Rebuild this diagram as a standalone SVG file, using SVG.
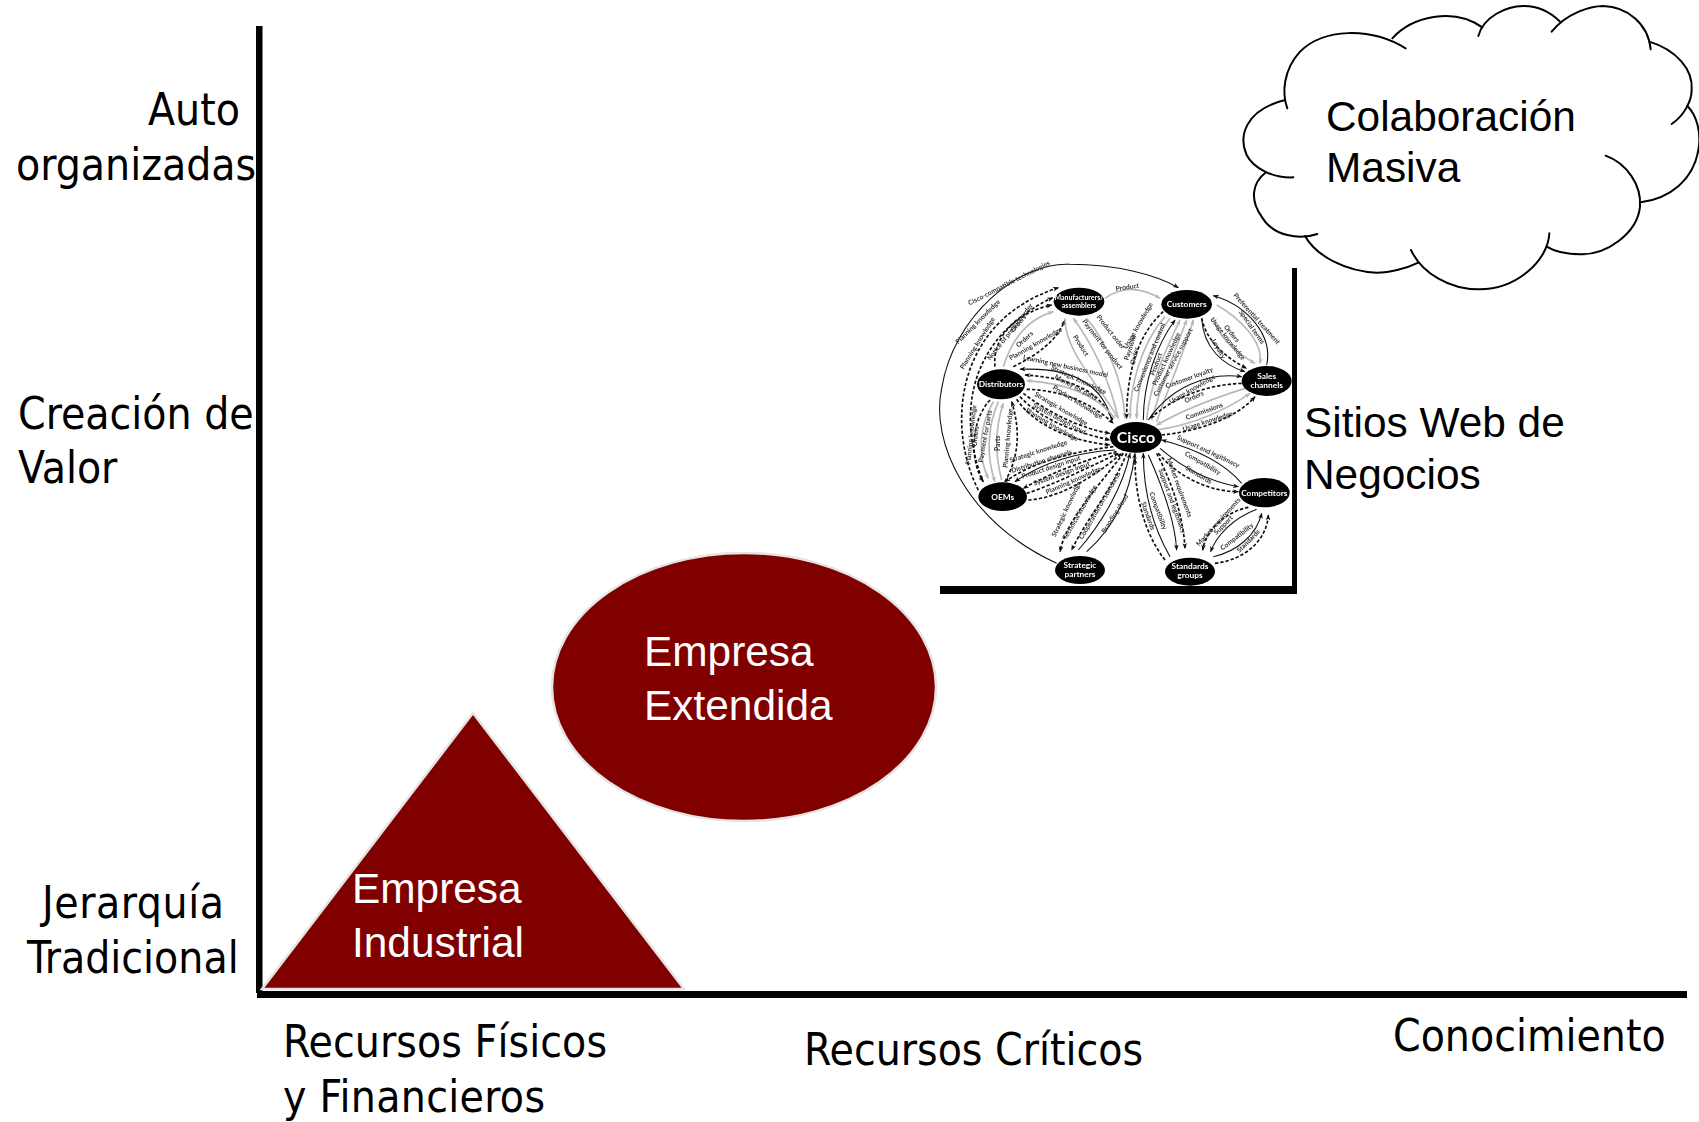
<svg xmlns="http://www.w3.org/2000/svg" width="1699" height="1122" viewBox="0 0 1699 1122">
<style>
.t{font-family:"DejaVu Sans Condensed","DejaVu Sans",sans-serif;font-size:44px;fill:#000}
.a{font-family:"Liberation Sans",Arial,sans-serif;font-size:42.4px;fill:#000}
.w{fill:#fff}
.ax{fill:#000}
.red{fill:#800000;stroke:#e4e4e4;stroke-width:2.5}
.cl{fill:none;stroke:#000;stroke-width:6;stroke-linecap:round}
.e path{fill:none}
.s{stroke:#111;stroke-width:3.2;marker-end:url(#hk)}
.d{stroke:#111;stroke-width:5;stroke-dasharray:10 6;marker-end:url(#hk)}
.g{stroke:#b9b9b9;stroke-width:5;marker-end:url(#hg)}
.n ellipse{fill:#000}
.n text{font-family:"Lato","Liberation Sans",sans-serif;font-weight:700;fill:#fff;text-anchor:middle;font-size:25px}
.l text{font-family:"Lato","Liberation Sans",sans-serif;font-size:20px;fill:#333;text-anchor:middle;font-weight:700}
</style>
<defs>
<marker id="hk" markerUnits="userSpaceOnUse" markerWidth="20" markerHeight="16" refX="16" refY="8" orient="auto"><path d="M0,1 L18,8 L0,15 L5,8 Z" fill="#111"/></marker>
<marker id="hg" markerUnits="userSpaceOnUse" markerWidth="20" markerHeight="16" refX="16" refY="8" orient="auto"><path d="M0,1 L18,8 L0,15 L5,8 Z" fill="#b9b9b9"/></marker>
<filter id="soft" x="-5%" y="-5%" width="110%" height="110%"><feGaussianBlur stdDeviation="0.35"/></filter>
</defs>
<rect width="1699" height="1122" fill="#fff"/>

<g id="connectors-axes">
<rect class="ax" x="256" y="26" width="6.5" height="967"/>
<rect class="ax" x="257" y="991" width="1430" height="7"/>
<rect class="ax" x="1292" y="268" width="5" height="326"/>
<rect class="ax" x="940" y="586" width="357" height="8"/>
</g>

<g id="axis-labels">
<text class="t" x="148" y="125">Auto</text>
<text class="t" x="16" y="180">organizadas</text>
<text class="t" x="18" y="429">Creación de</text>
<text class="t" x="18" y="483">Valor</text>
<text class="t" x="42" y="918" textLength="182">Jerarquía</text>
<text class="t" x="27" y="973">Tradicional</text>
<text class="t" x="283" y="1057" textLength="324">Recursos Físicos</text>
<text class="t" x="283" y="1112" textLength="262">y Financieros</text>
<text class="t" x="804" y="1065">Recursos Críticos</text>
<text class="t" x="1393" y="1051">Conocimiento</text>
</g>

<g id="empresa-industrial">
<polygon class="red" points="473,713 262,989 684,989"/>
<text class="a w" x="352" y="903">Empresa</text>
<text class="a w" x="352" y="957">Industrial</text>
</g>
<g id="empresa-extendida">
<ellipse class="red" cx="744" cy="687" rx="192" ry="134"/>
<text class="a w" x="644" y="666">Empresa</text>
<text class="a w" x="644" y="720">Extendida</text>
</g>

<g id="colaboracion-masiva">
<g transform="translate(1230,0) scale(.33333)">
<path class="cl" d="M172,325 C155,280 160,210 210,155 C280,85 420,80 527,145"/>
<path class="cl" d="M487,115 C545,50 670,20 757,82"/>
<path class="cl" d="M745,108 C760,50 830,18 880,18 C925,18 960,35 990,65"/>
<path class="cl" d="M965,95 C1010,40 1080,18 1120,18 C1190,20 1255,70 1262,148"/>
<path class="cl" d="M1258,125 C1340,150 1390,210 1385,270 C1385,300 1365,345 1325,372"/>
<path class="cl" d="M1372,318 C1400,345 1415,400 1405,450 C1390,540 1320,595 1232,607"/>
<path class="cl" d="M1127,467 C1190,490 1235,555 1230,620 C1222,700 1130,765 1050,763 C1010,763 975,755 950,740"/>
<path class="cl" d="M958,700 C955,780 860,870 745,868 C660,868 575,820 543,750"/>
<path class="cl" d="M565,788 C530,805 480,818 440,818 C350,815 260,770 225,708"/>
<path class="cl" d="M262,702 C210,720 130,710 95,650 C60,600 65,550 108,517"/>
<path class="cl" d="M190,532 C130,535 70,505 50,465 C25,410 45,330 165,300"/>
</g>
<text class="a" x="1326" y="131">Colaboración</text>
<text class="a" x="1326" y="182">Masiva</text>
</g>

<g id="sitios-web-label">
<text class="a" x="1304" y="437">Sitios Web de</text>
<text class="a" x="1304" y="489">Negocios</text>
</g>

<g id="network" transform="translate(930,255) scale(.33333)" filter="url(#soft)">
<g id="connectors" class="e">
<path class="s" d="M380,925 C110,800 0,560 35,400 C70,180 270,20 420,28 C560,28 680,60 745,98"/>
<path class="d" d="M145,705 C50,520 70,200 385,98"/>
<path class="d" d="M155,670 C85,480 110,250 368,128"/>
<path class="d" d="M195,335 C185,240 270,170 365,150"/>
<path class="g" d="M220,335 C250,240 300,190 370,170"/>
<path class="d" d="M250,335 C320,300 380,260 405,195"/>
<path class="g" d="M405,190 C405,290 500,380 565,490"/>
<path class="g" d="M565,490 C540,380 490,270 430,190"/>
<path class="g" d="M470,190 C530,260 580,380 585,490"/>
<path class="g" d="M525,130 C580,90 640,100 690,130"/>
<path class="d" d="M700,170 C620,240 590,360 590,490"/>
<path class="g" d="M705,185 C630,270 600,400 600,490"/>
<path class="g" d="M720,190 C650,280 620,400 620,490"/>
<path class="s" d="M640,495 C640,380 680,270 735,195"/>
<path class="g" d="M650,495 C660,380 710,280 750,195"/>
<path class="g" d="M665,495 C690,400 730,300 770,195"/>
<path class="g" d="M680,500 C710,410 760,300 790,195"/>
<path class="d" d="M815,190 C830,260 890,310 950,340"/>
<path class="s" d="M815,190 C820,280 880,330 945,350"/>
<path class="g" d="M850,190 C870,260 930,300 975,325"/>
<path class="g" d="M860,150 C930,190 1000,260 990,325"/>
<path class="s" d="M1010,330 C1030,240 950,150 850,122"/>
<path class="s" d="M655,495 C720,400 830,350 935,365"/>
<path class="d" d="M935,385 C820,390 730,430 660,490"/>
<path class="g" d="M945,400 C850,430 750,470 680,510"/>
<path class="g" d="M680,525 C780,510 880,470 960,415"/>
<path class="d" d="M695,540 C800,530 920,490 975,425"/>
<path class="s" d="M935,685 C880,620 790,580 695,555"/>
<path class="s" d="M690,580 C760,640 840,680 925,695"/>
<path class="d" d="M685,595 C740,660 830,710 925,710"/>
<path class="d" d="M955,757 C890,770 830,820 818,885"/>
<path class="s" d="M980,763 C910,790 860,840 842,890"/>
<path class="s" d="M850,905 C920,890 980,840 995,775"/>
<path class="d" d="M855,925 C940,915 1010,860 1015,780"/>
<path class="d" d="M680,595 C730,690 760,790 765,880"/>
<path class="s" d="M655,600 C700,700 735,800 740,885"/>
<path class="s" d="M720,905 C660,800 640,700 640,595"/>
<path class="d" d="M705,915 C640,830 615,720 615,610"/>
<path class="s" d="M470,890 C550,820 600,720 615,595"/>
<path class="s" d="M445,885 C520,800 580,690 600,595"/>
<path class="d" d="M590,595 C550,700 470,790 425,885"/>
<path class="d" d="M580,595 C510,690 410,790 390,890"/>
<path class="d" d="M550,575 C430,590 310,620 225,680"/>
<path class="s" d="M555,585 C450,590 340,620 255,680"/>
<path class="d" d="M560,590 C480,610 370,650 280,700"/>
<path class="d" d="M290,715 C370,690 490,630 565,595"/>
<path class="d" d="M295,735 C390,730 500,660 575,595"/>
<path class="d" d="M180,435 C120,500 120,620 160,680"/>
<path class="g" d="M190,440 C150,510 140,600 175,670"/>
<path class="g" d="M205,440 C170,520 170,610 195,680"/>
<path class="g" d="M215,675 C195,600 195,520 220,445"/>
<path class="d" d="M225,680 C270,600 270,520 245,440"/>
<path class="s" d="M545,495 C520,400 440,335 270,343"/>
<path class="d" d="M548,495 C510,410 430,370 285,360"/>
<path class="g" d="M555,490 C500,420 410,385 290,377"/>
<path class="d" d="M290,403 C390,405 480,440 550,505"/>
<path class="d" d="M280,415 C350,470 450,520 540,535"/>
<path class="d" d="M270,425 C340,500 450,535 540,555"/>
<path class="d" d="M260,433 C320,520 440,560 540,570"/>
</g>
<g id="connector-labels" class="l">
<text transform="translate(240,90) rotate(-27)">Cisco-compatible technologies</text>
<text transform="translate(148,205) rotate(-45)">Planning knowledge</text>
<text transform="translate(148,268) rotate(-58)">Planning knowledge</text>
<text transform="translate(245,235) rotate(-52)">Notice of product order</text>
<text transform="translate(270,210) rotate(-50)">Orders</text>
<text transform="translate(288,258) rotate(-42)">Orders</text>
<text transform="translate(320,272) rotate(-30)">Planning knowledge</text>
<text transform="translate(447,275) rotate(58)">Product</text>
<text transform="translate(512,272) rotate(52)">Payment for product</text>
<text transform="translate(537,235) rotate(52)">Product order</text>
<text transform="translate(593,103) rotate(-8)">Product</text>
<text transform="translate(630,215) rotate(-60)">Usage knowledge</text>
<text transform="translate(607,280) rotate(-72)">Payment</text>
<text transform="translate(620,305) rotate(-75)">Order</text>
<text transform="translate(665,310) rotate(-68)">Convenience and control</text>
<text transform="translate(685,330) rotate(-70)">Product</text>
<text transform="translate(715,315) rotate(-65)">Product knowledge</text>
<text transform="translate(735,325) rotate(-62)">Customer service support</text>
<text transform="translate(888,255) rotate(52)">Usage knowledge</text>
<text transform="translate(860,285) rotate(60)">Loyalty</text>
<text transform="translate(900,240) rotate(50)">Orders</text>
<text transform="translate(960,220) rotate(55)">Special terms</text>
<text transform="translate(975,195) rotate(48)">Preferential treatment</text>
<text transform="translate(780,375) rotate(-20)">Customer loyalty</text>
<text transform="translate(790,408) rotate(-30)">Usage knowledge</text>
<text transform="translate(795,432) rotate(-25)">Orders</text>
<text transform="translate(825,475) rotate(-20)">Commissions</text>
<text transform="translate(835,505) rotate(-18)">Usage knowledge</text>
<text transform="translate(832,595) rotate(25)">Support and legitimacy</text>
<text transform="translate(815,630) rotate(30)">Compatibility</text>
<text transform="translate(803,665) rotate(30)">Standards</text>
<text transform="translate(870,805) rotate(-48)">Market requirements</text>
<text transform="translate(885,815) rotate(-45)">Support</text>
<text transform="translate(925,850) rotate(-38)">Compatibility</text>
<text transform="translate(960,863) rotate(-45)">Standards</text>
<text transform="translate(742,700) rotate(70)">Market requirements</text>
<text transform="translate(720,740) rotate(70)">Support and legitimacy</text>
<text transform="translate(678,770) rotate(70)">Compatibility</text>
<text transform="translate(648,785) rotate(70)">Standards</text>
<text transform="translate(560,780) rotate(-58)">Branding cloud</text>
<text transform="translate(515,755) rotate(-60)">Cooperation on standards</text>
<text transform="translate(455,775) rotate(-60)">Technical knowledge</text>
<text transform="translate(415,765) rotate(-65)">Strategic knowledge</text>
<text transform="translate(327,595) rotate(-18)">Strategic knowledge</text>
<text transform="translate(337,625) rotate(-18)">Distribution channels</text>
<text transform="translate(365,643) rotate(-18)">Product design input</text>
<text transform="translate(397,662) rotate(-20)">System design input</text>
<text transform="translate(433,682) rotate(-24)">Planning knowledge</text>
<text transform="translate(130,540) rotate(-84)">Planning knowledge</text>
<text transform="translate(143,545) rotate(-83)">Orders</text>
<text transform="translate(172,545) rotate(-80)">Payment for parts</text>
<text transform="translate(210,565) rotate(-90)">Parts</text>
<text transform="translate(240,550) rotate(-85)">Planning knowledge</text>
<text transform="translate(405,340) rotate(12)">Learning new business model</text>
<text transform="translate(443,380) rotate(25)">Strategic knowledge</text>
<text transform="translate(435,403) rotate(28)">Money for parts</text>
<text transform="translate(440,447) rotate(32)">Product knowledge</text>
<text transform="translate(390,467) rotate(30)">Strategic knowledge</text>
<text transform="translate(385,497) rotate(28)">System design input</text>
<text transform="translate(363,515) rotate(30)">Planning knowledge</text>
</g>
<g id="n-manufacturers" class="n"><ellipse cx="447" cy="140" rx="76" ry="42"/><text x="447" y="136" style="font-size:21px">Manufacturers/</text><text x="447" y="160" style="font-size:21px">assemblers</text></g>
<g id="n-customers" class="n"><ellipse cx="770" cy="148" rx="76" ry="43"/><text x="770" y="157">Customers</text></g>
<g id="n-distributors" class="n"><ellipse cx="213" cy="388" rx="72" ry="45"/><text x="213" y="397">Distributors</text></g>
<g id="n-sales" class="n"><ellipse cx="1010" cy="378" rx="75" ry="45"/><text x="1010" y="372">Sales</text><text x="1010" y="399">channels</text></g>
<g id="n-cisco" class="n"><ellipse cx="618" cy="547" rx="78" ry="46"/><text x="618" y="564" style="font-size:48px">Cisco</text></g>
<g id="n-oems" class="n"><ellipse cx="218" cy="725" rx="73" ry="43"/><text x="218" y="734">OEMs</text></g>
<g id="n-competitors" class="n"><ellipse cx="1003" cy="713" rx="76" ry="44"/><text x="1003" y="722">Competitors</text></g>
<g id="n-strategic" class="n"><ellipse cx="450" cy="945" rx="75" ry="42"/><text x="450" y="938">Strategic</text><text x="450" y="965">partners</text></g>
<g id="n-standards" class="n"><ellipse cx="780" cy="950" rx="75" ry="42"/><text x="780" y="942">Standards</text><text x="780" y="969">groups</text></g>
</g>
</svg>
